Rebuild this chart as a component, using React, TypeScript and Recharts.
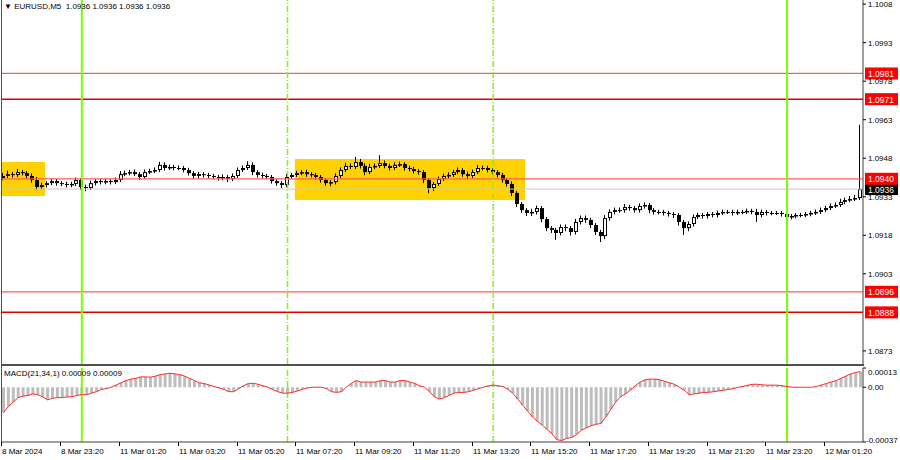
import React from 'react';
import { ComposedChart, Bar, Line, XAxis, YAxis, ReferenceLine, ReferenceArea } from 'recharts';

const closes = [
  1.09411, 1.09418, 1.09415, 1.09426, 1.09422, 1.09411, 1.09395, 1.09368, 1.09376, 1.09383, 1.09391, 1.09383, 1.0938, 1.09376, 1.0938, 1.09395,
  1.09368, 1.09364, 1.09383, 1.09391, 1.09387, 1.09391, 1.09387, 1.09395, 1.09418, 1.09422, 1.09426, 1.09418, 1.09407, 1.09426, 1.0943, 1.09434,
  1.09454, 1.09442, 1.09446, 1.09442, 1.09442, 1.09434, 1.09422, 1.09411, 1.09418, 1.09415, 1.09411, 1.09407, 1.09403, 1.09407, 1.09399, 1.09411,
  1.09434, 1.09442, 1.09454, 1.09426, 1.09415, 1.09411, 1.09407, 1.09391, 1.09383, 1.09376, 1.09407, 1.09415, 1.09422, 1.09426, 1.09418, 1.09415,
  1.09407, 1.09395, 1.09383, 1.09387, 1.09411, 1.09434, 1.0945, 1.09446, 1.09465, 1.0945, 1.09426, 1.09446, 1.0945, 1.09461, 1.0945, 1.09442,
  1.09454, 1.09457, 1.09442, 1.09438, 1.0943, 1.09426, 1.09395, 1.09364, 1.0938, 1.09399, 1.09411, 1.09415, 1.09426, 1.09434, 1.09418, 1.09411,
  1.09426, 1.09442, 1.09442, 1.09434, 1.09426, 1.09415, 1.09395, 1.0938, 1.09345, 1.09302, 1.09278, 1.09267, 1.09271, 1.09286, 1.09243, 1.09208,
  1.09201, 1.09189, 1.09212, 1.09208, 1.09193, 1.09232, 1.09247, 1.0924, 1.0922, 1.09193, 1.09177, 1.09247, 1.09271, 1.09278, 1.09278, 1.0929,
  1.09286, 1.09278, 1.09294, 1.09298, 1.09278, 1.09271, 1.09271, 1.09267, 1.09263, 1.09259, 1.09232, 1.09208, 1.09224, 1.09251, 1.09259, 1.09255,
  1.09263, 1.09259, 1.09267, 1.09271, 1.09271, 1.09267, 1.09271, 1.09271, 1.09275, 1.09271, 1.09259, 1.09271, 1.09267, 1.09267, 1.09267, 1.09263,
  1.09251, 1.09255, 1.09259, 1.09259, 1.09263, 1.09267, 1.09271, 1.09278, 1.09286, 1.09294, 1.09298, 1.0931, 1.09317, 1.09321, 1.09325, 1.0936,
];
const firstOpen = 1.09403;

// wick lengths beyond the body, in points (0.00001)
const wickUp = [
  12, 14, 9, 12, 8, 8, 10, 12, 9, 8, 10, 8, 8, 9, 8, 10,
  8, 9, 10, 8, 8, 9, 8, 10, 12, 10, 9, 10, 8, 10, 9, 10,
  12, 10, 9, 8, 10, 8, 9, 8, 9, 8, 8, 8, 8, 10, 8, 10,
  10, 10, 14, 10, 8, 9, 8, 8, 8, 8, 12, 8, 9, 8, 9, 8,
  8, 8, 8, 8, 10, 10, 12, 10, 20, 12, 10, 12, 10, 31, 10, 9,
  10, 10, 8, 9, 8, 8, 8, 8, 8, 10, 9, 10, 9, 10, 8, 10,
  10, 12, 10, 9, 8, 8, 8, 8, 10, 8, 8, 8, 12, 10, 8, 8,
  8, 8, 10, 10, 8, 12, 10, 10, 8, 8, 8, 12, 10, 10, 10, 12,
  9, 8, 10, 10, 8, 8, 8, 8, 8, 8, 8, 8, 10, 10, 8, 8,
  8, 8, 9, 9, 8, 8, 9, 8, 9, 8, 12, 9, 8, 8, 8, 8,
  8, 8, 8, 8, 8, 8, 9, 10, 9, 10, 10, 12, 10, 12, 12, 250,
];
const wickDown = [
  9, 8, 10, 8, 9, 10, 10, 12, 10, 10, 8, 10, 9, 10, 9, 8,
  12, 12, 8, 9, 9, 8, 9, 8, 8, 8, 9, 8, 12, 8, 8, 8,
  8, 10, 8, 9, 8, 9, 9, 12, 10, 10, 9, 9, 10, 9, 12, 8,
  8, 8, 8, 12, 10, 10, 9, 10, 10, 12, 9, 8, 8, 8, 10, 10,
  10, 10, 10, 12, 9, 8, 8, 9, 8, 10, 12, 8, 9, 8, 9, 10,
  8, 8, 10, 9, 10, 10, 12, 20, 12, 8, 8, 9, 8, 8, 10, 12,
  8, 8, 9, 9, 10, 10, 10, 10, 12, 12, 10, 12, 12, 10, 12, 12,
  12, 27, 10, 12, 14, 10, 10, 12, 12, 12, 23, 12, 10, 10, 10, 10,
  10, 10, 10, 10, 12, 10, 10, 10, 10, 12, 14, 27, 12, 10, 8, 10,
  10, 9, 10, 8, 8, 10, 8, 9, 8, 9, 27, 9, 10, 9, 8, 10,
  10, 9, 9, 9, 8, 9, 8, 8, 8, 8, 8, 8, 9, 8, 8, 8,
];

// MACD(21,34,1) main line, in units of 0.00001
const macdVals = [
  -17, -13, -10, -7, -6, -5.5, -4.5, -5, -6.5, -8.5, -7.5, -7, -7, -6.5, -6.5, -5.5,
  -5, -5, -4, -3, -1.5, -1, 0, 1.5, 3, 4.5, 5.5, 6, 7, 7, 6.8, 7.5,
  8.5, 9, 9.5, 9, 8.5, 7.5, 6, 4.5, 3, 2.5, 1.5, 0.5, -0.5, -1.5, -3, -3,
  -1, 1, 2.5, 2.7, 2, 1, 0, -1.5, -3, -4, -4, -3.5, -2.5, -1.5, -0.5, 0,
  0, 0, -1, -3, -3.5, -3, 0, 2.5, 4.5, 3.5, 3.5, 3.5, 3.5, 4.5, 4.5, 3.5,
  3.5, 4.5, 4.5, 3.5, 2.5, 1, 0, -3, -6.5, -8, -7, -5.5, -4, -3.5, -3.5, -3,
  -2, -1, 0, 1, 1.5, 1, 0.5, -1.5, -4, -8, -12, -16, -20, -23, -25.5, -28.5,
  -31.5, -35.5, -36, -34.5, -34, -32, -29, -27.5, -26, -25, -24.5, -20, -15, -10, -6.5, -4.5,
  -2, 1, 3.5, 5, 5.5, 5.5, 5, 4, 3, 2, 0, -2, -5, -4.5, -4, -3.5,
  -3.4, -3, -2.5, -2, -1.5, -1, 0, 0.5, 1.4, 2, 2, 1.6, 1.4, 1.4, 1.4, 1,
  0.5, 0, 0, 0, 0, 0, 0.5, 1.5, 2.5, 3.5, 4.5, 6, 7.5, 9, 10, 10.5,
];

const timeTickIdx = [0, 12, 24, 36, 48, 60, 72, 84, 96, 108, 120, 132, 144, 156, 168];
const timeTickText = [
  '8 Mar 2024', '8 Mar 23:20', '11 Mar 01:20', '11 Mar 03:20', '11 Mar 05:20', '11 Mar 07:20', '11 Mar 09:20',
  '11 Mar 11:20', '11 Mar 13:20', '11 Mar 15:20', '11 Mar 17:20', '11 Mar 19:20', '11 Mar 21:20', '11 Mar 23:20', '12 Mar 01:20',
];

// 1.0888 sits under its red level tag, so it is left out
const priceTicks = [1.1008, 1.0993, 1.0978, 1.0963, 1.0948, 1.0933, 1.0918, 1.0903, 1.0873];
const macdTicks = [0.00013, 0, -0.00037];
const macdTickText = ['0.00013', '0.00', '-0.00037'];

const levelPrices = [1.0981, 1.0971, 1.094, 1.0896, 1.0888];
const levelStrong = [false, true, false, false, true];
const bidPrice = 1.0936;

const dayLines = [16, 160];
const sessionLines = [58, 100];

const boxFrom = [0, 60];
const boxTo = [8, 106];
const boxLow = [1.09333, 1.09317];
const boxHigh = [1.09465, 1.09477];

const FONT = '"Liberation Sans", Arial, sans-serif';
const GREEN = '#7cfc00';

const candles = closes.map((c, i) => {
  const o = i === 0 ? firstOpen : closes[i - 1];
  const high = Math.max(o, c) + wickUp[i] / 1e5;
  const low = Math.min(o, c) - wickDown[i] / 1e5;
  return { i, o, c, high, low, range: [low, high], macd: macdVals[i] / 1e5 };
});

const Candle = (props: any) => {
  const { x, y, width, height, payload } = props;
  if (!payload || height == null) return null;
  const { o, c, high, low } = payload;
  const span = high - low || 1e-9;
  const py = (v: number) => y + ((high - v) / span) * height;
  const left = Math.round(x + width / 2 - 2);
  const top = py(Math.max(o, c));
  const bot = py(Math.min(o, c));
  const h = Math.max(bot - top, 1);
  return (
    <g>
      <line x1={left + 1.5} x2={left + 1.5} y1={y} y2={y + height} stroke="#000" strokeWidth={1} />
      {c > o ? (
        <rect x={left + 0.5} y={top + 0.5} width={3} height={Math.max(h - 1, 0.5)} fill="#fff" stroke="#000" strokeWidth={1} />
      ) : (
        <rect x={left} y={top} width={4} height={h} fill="#000" />
      )}
    </g>
  );
};

const PriceTick = (p: any) => (
  <g>
    <line x1={p.x} x2={p.x + 3} y1={p.y} y2={p.y} stroke="#000" />
    <text x={p.x + 5} y={p.y + 3} fontSize={8} fill="#000" fontFamily={FONT}>
      {Number(p.payload.value).toFixed(4)}
    </text>
  </g>
);

const MacdTick = (p: any) => {
  const k = macdTicks.indexOf(p.payload.value);
  const shift = k === 0 ? 4 : k === 2 ? -2 : 0;
  return (
    <g>
      <line x1={p.x} x2={p.x + 3} y1={p.y} y2={p.y} stroke="#000" />
      <text x={k === 2 ? p.x + 3 : p.x + 5} y={p.y + 3 + shift} fontSize={8} fill="#000" fontFamily={FONT}>
        {macdTickText[k]}
      </text>
    </g>
  );
};

const TimeTick = (p: any) => {
  const k = timeTickIdx.indexOf(p.payload.value);
  if (k < 0) return <g />;
  const tx = Math.floor(p.x - 1.5);
  return (
    <g>
      <line x1={tx + 0.5} x2={tx + 0.5} y1={p.y} y2={p.y + 4} stroke="#000" />
      <text x={tx + 1} y={p.y + 12} fontSize={8} fill="#000" fontFamily={FONT}>
        {timeTickText[k]}
      </text>
    </g>
  );
};

const tag = (text: string, bg: string) => (props: any) => {
  const vb = props.viewBox || {};
  const x = vb.x + vb.width + 2;
  return (
    <g>
      <rect x={x} y={vb.y - 6} width={33} height={12} fill={bg} />
      <text x={x + 3} y={vb.y + 3.5} fontSize={8.5} fill="#fff" fontFamily={FONT}>
        {text}
      </text>
    </g>
  );
};

export default function App() {
  return (
    <div style={{ position: 'fixed', left: 0, top: 0, width: 900, height: 460, background: '#fff', fontFamily: FONT, overflow: 'hidden' }}>
      <div style={{ position: 'absolute', left: 0, top: 0 }}>
        <ComposedChart width={900} height={364} data={candles} margin={{ top: 0, right: 0, left: 1, bottom: 0 }}>
          <XAxis dataKey="i" hide />
          <YAxis
            orientation="right"
            width={37}
            domain={[1.08679, 1.10096]}
            ticks={priceTicks}
            allowDataOverflow
            interval={0}
            tickLine={false}
            tickSize={0}
            tickMargin={0}
            axisLine={{ stroke: '#404040' }}
            tick={<PriceTick />}
          />
          {boxFrom.map((b, k) => (
            <ReferenceArea key={'box' + k} x1={b} x2={boxTo[k]} y1={boxLow[k]} y2={boxHigh[k]} fill="#ffd200" fillOpacity={1} stroke="none" />
          ))}
          <ReferenceLine y={bidPrice} stroke="#c8c8c8" strokeWidth={1} label={tag(bidPrice.toFixed(4), '#000')} />
          {levelPrices.map((lv, k) => (
            <ReferenceLine
              key={'lv' + k}
              y={lv}
              stroke={levelStrong[k] ? '#dd0000' : '#ff5c5c'}
              strokeWidth={levelStrong[k] ? 1.5 : 1.2}
              label={tag(lv.toFixed(4), '#ff0000')}
            />
          ))}
          {dayLines.map((d) => (
            <ReferenceLine key={'d' + d} x={d} stroke={GREEN} strokeWidth={2} />
          ))}
          {sessionLines.map((d) => (
            <ReferenceLine key={'s' + d} x={d} stroke={GREEN} strokeWidth={1.5} strokeDasharray="6 2 1 2" />
          ))}
          <Bar dataKey="range" shape={Candle} barSize={4} isAnimationActive={false} />
        </ComposedChart>
      </div>

      <div style={{ position: 'absolute', left: 0, top: 366 }}>
        <ComposedChart width={900} height={94} data={candles} margin={{ top: 2, right: 0, left: 1, bottom: 0 }}>
          <XAxis
            dataKey="i"
            interval={0}
            height={18}
            tickLine={false}
            tickSize={0}
            tickMargin={0}
            axisLine={{ stroke: '#404040' }}
            tick={<TimeTick />}
          />
          <YAxis
            orientation="right"
            width={37}
            domain={[-0.00037, 0.00013]}
            ticks={macdTicks}
            allowDataOverflow
            interval={0}
            tickLine={false}
            tickSize={0}
            tickMargin={0}
            axisLine={{ stroke: '#404040' }}
            tick={<MacdTick />}
          />
          {dayLines.map((d) => (
            <ReferenceLine key={'md' + d} x={d} stroke={GREEN} strokeWidth={2} />
          ))}
          {sessionLines.map((d) => (
            <ReferenceLine key={'ms' + d} x={d} stroke={GREEN} strokeWidth={1.5} strokeDasharray="6 2 1 2" />
          ))}
          <Bar dataKey="macd" fill="#bdbdbd" barSize={3} isAnimationActive={false} />
          <Line dataKey="macd" type="linear" stroke="#ff2a2a" strokeWidth={1} dot={false} isAnimationActive={false} />
        </ComposedChart>
      </div>

      {/* frame */}
      <div style={{ position: 'absolute', left: 1, top: 0, width: 1, height: 442, background: '#505050' }} />
      <div style={{ position: 'absolute', left: 1, top: 364, width: 863, height: 2, background: '#505050' }} />

      <div style={{ position: 'absolute', left: 4, top: 2, fontSize: 8, color: '#000', whiteSpace: 'pre' }}>
        {'\u25BC EURUSD,M5  1.0936 1.0936 1.0936 1.0936'}
      </div>
      <div style={{ position: 'absolute', left: 4, top: 369, fontSize: 8, color: '#000', whiteSpace: 'pre' }}>
        {'MACD(21,34,1) 0.00009 0.00009'}
      </div>
    </div>
  );
}
